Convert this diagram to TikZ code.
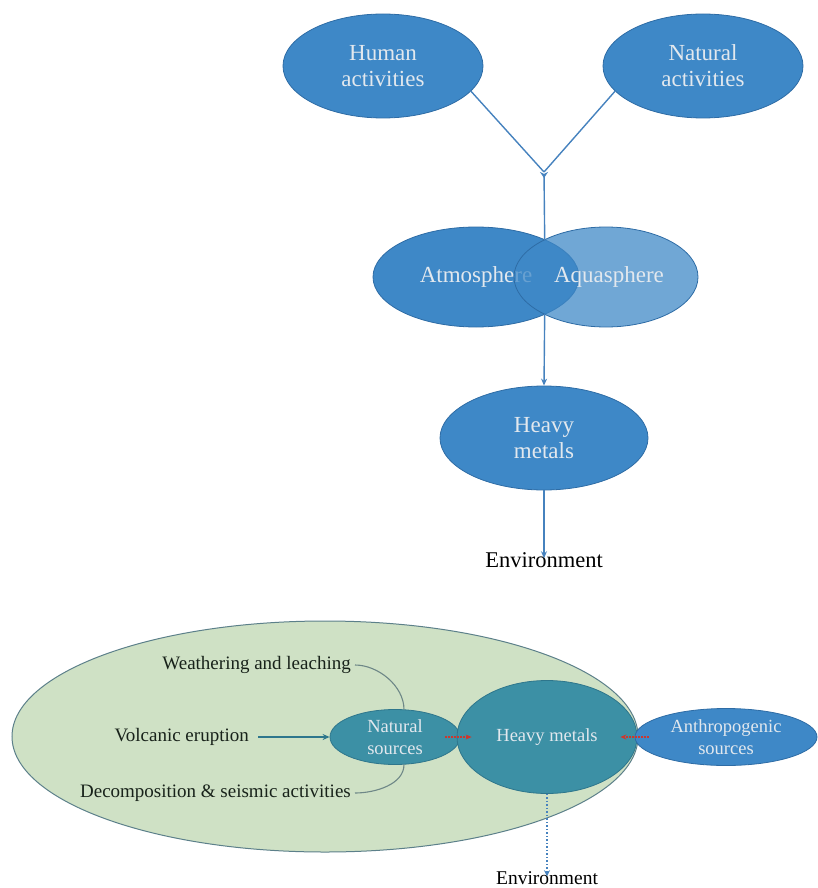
\documentclass[tikz,border=0pt]{standalone}
\usepackage{fontspec}
\setmainfont{Liberation Serif}
\usetikzlibrary{shapes.geometric,arrows.meta}
\definecolor{topblue}{RGB}{62,136,199}
\definecolor{topedge}{RGB}{46,108,165}
\definecolor{inktext}{RGB}{226,232,238}
\definecolor{linkblue}{RGB}{70,130,190}
\definecolor{leafgreen}{RGB}{207,225,197}
\definecolor{leafedge}{RGB}{92,128,138}
\definecolor{tealfill}{RGB}{60,144,165}
\definecolor{tealedge}{RGB}{46,118,140}
\definecolor{darklabel}{RGB}{24,34,26}
\definecolor{arrowred}{RGB}{205,55,45}
\definecolor{curvegray}{RGB}{110,135,135}
\tikzset{
  blueoval/.style={ellipse, draw=topedge, line width=0.8pt, fill=topblue, text=inktext,
    inner sep=0pt, align=center, font=\fontsize{23}{26}\selectfont},
  tealoval/.style={ellipse, draw=tealedge, line width=0.8pt, fill=tealfill, text=inktext,
    inner sep=0pt, align=center, font=\fontsize{18.5}{22}\selectfont},
  toplink/.style={draw=linkblue, line width=1.4pt},
  toparrow/.style={toplink, -{Stealth[length=7pt,width=6pt]}},
  sidelabel/.style={text=darklabel, inner sep=0pt, font=\fontsize{19}{22}\selectfont},
  redarrow/.style={draw=arrowred, line width=1.3pt, dash pattern=on 2pt off 1pt, -{Stealth[length=6pt,width=5pt]}},
  curvelink/.style={draw=curvegray, line width=1.1pt},
}
\begin{document}
\begin{tikzpicture}[x=1pt,y=-1pt]
\useasboundingbox (0,0) rectangle (818,888);
% ---------- top diagram ----------
\node[blueoval, minimum width=200pt, minimum height=104pt] (hum) at (383,66) {Human\\activities};
\node[blueoval, minimum width=200pt, minimum height=104pt] (nat) at (703,66) {Natural\\activities};
\coordinate (junc) at (544,172);
\node[blueoval, minimum width=206pt, minimum height=100pt] (atm) at (476,277) {Atmosphere};
\node[blueoval, fill opacity=0.74, text opacity=1, minimum width=184pt, minimum height=100pt] (aqu) at (606,277) {\hspace*{6pt}Aquasphere};
\coordinate (ovtop) at (544.7,240);
\coordinate (ovbot) at (544.7,314);
\node[blueoval, minimum width=208pt, minimum height=104pt] (hm) at (544,438) {Heavy\\metals};
\node[text=black, inner sep=0pt, font=\fontsize{22.5}{26}\selectfont] (env) at (544,560) {Environment};
\draw[toplink] (hum.-16) -- (junc);
\draw[toplink] (nat.196) -- (junc);
\draw[toplink, {Stealth[length=6pt,width=8pt,reversed]}-] (junc) -- (ovtop);
\draw[toparrow] (ovbot) -- (hm.north);
\draw[toparrow] (hm.south) -- ([yshift=-6pt]env.north);
% ---------- bottom diagram ----------
\node[ellipse, draw=leafedge, line width=1pt, fill=leafgreen, inner sep=0pt,
      minimum width=626pt, minimum height=231pt] (field) at (325,736.5) {};
\node[tealoval, minimum width=130pt, minimum height=55pt] (ns) at (395,737) {Natural\\sources};
\node[tealoval, minimum width=180pt, minimum height=113pt] (hm2) at (547,737) {Heavy metals};
\node[blueoval, font=\fontsize{18.5}{22}\selectfont, minimum width=182pt, minimum height=57pt] (anth) at (726,737) {Anthropogenic\\sources};
\node[sidelabel, anchor=east] (weath) at (351,665) {Weathering and leaching};
\node[sidelabel, anchor=east] (volc) at (249,737) {Volcanic eruption};
\node[sidelabel, anchor=east] (deco) at (351,793) {Decomposition \& seismic activities};
\draw[curvelink] ([xshift=4pt]weath.east) to[out=0,in=90,looseness=0.9] (ns.72);
\draw[curvelink] ([xshift=4pt]deco.east) to[out=0,in=-90,looseness=0.9] (ns.-72);
\draw[draw=tealedge, line width=1.4pt, -{Stealth[length=7pt,width=6pt]}] ([xshift=9pt]volc.east) -- (ns.west);
\draw[redarrow] ([xshift=-15pt]ns.east) -- ([xshift=15pt]hm2.west);
\draw[redarrow] ([xshift=14pt]anth.west) -- ([xshift=-17pt]hm2.east);
\node[text=black, inner sep=0pt, font=\fontsize{19.5}{22}\selectfont] (env2) at (547,878) {Environment};
\draw[draw=linkblue, line width=1.5pt, dotted, -{Stealth[length=6pt,width=6pt]}] (hm2.south) -- ([yshift=-5pt]env2.north);
\end{tikzpicture}
\end{document}
